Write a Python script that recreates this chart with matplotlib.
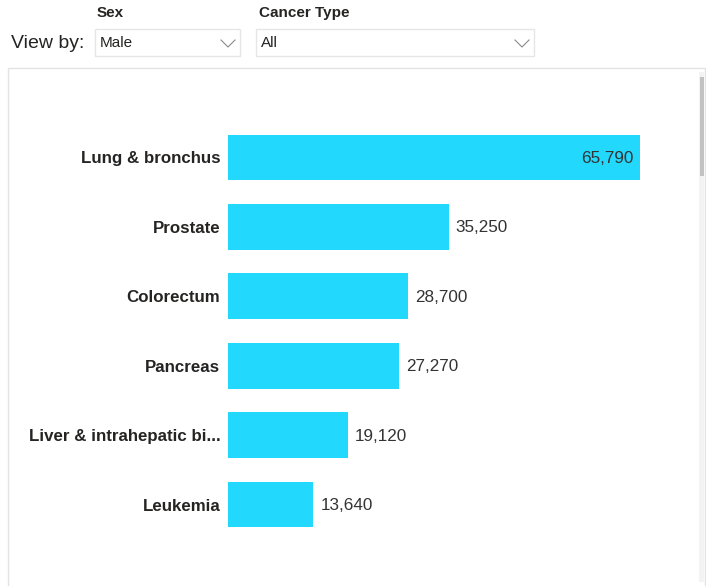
import matplotlib
matplotlib.use("Agg")
import matplotlib.pyplot as plt
from matplotlib.patches import Rectangle

plt.rcParams['font.family'] = ['Liberation Sans', 'DejaVu Sans']

categories = ["Lung & bronchus", "Prostate", "Colorectum", "Pancreas",
              "Liver & intrahepatic bi...", "Leukemia"]
values = [65790, 35250, 28700, 27270, 19120, 13640]
filter_sex = "Male"
filter_type = "All"

W, H = 706, 586
fig = plt.figure(figsize=(W / 100, H / 100), dpi=100)

# overlay axes in pixel coordinates for decorations
ov = fig.add_axes([0, 0, 1, 1])
ov.set_xlim(0, W)
ov.set_ylim(H, 0)
ov.axis('off')

# header
ov.text(97, 13, "Sex", fontsize=11, fontweight='bold', color='#252423', va='center', ha='left')
ov.text(259, 13, "Cancer Type", fontsize=11, fontweight='bold', color='#252423', va='center', ha='left')
ov.text(11, 43, "View by:", fontsize=14, color='#252423', va='center', ha='left')
for (x0, x1, label) in [(95, 240, filter_sex), (256, 534, filter_type)]:
    ov.add_patch(Rectangle((x0, 29), x1 - x0, 27, facecolor='white', edgecolor='#e6e6e6', lw=1))
    ov.text(x0 + 5, 43, label, fontsize=11, color='#252423', va='center', ha='left')
    cx = x1 - 12
    ov.plot([cx - 7, cx, cx + 7], [40, 47, 40], color='#8a8a8a', lw=0.8)

# panel
ov.add_patch(Rectangle((8, 68), 697, 530, facecolor='white', edgecolor='#e3e3e3', lw=1))
ov.add_patch(Rectangle((699, 72), 5, 510, facecolor='#f3f3f3', edgecolor='none'))
ov.add_patch(Rectangle((700, 77), 4, 99, facecolor='#c2c2c2', edgecolor='none'))

# bar axes
left, right, top, bottom = 228, 690, 88, 574
ax = fig.add_axes([left / W, 1 - bottom / H, (right - left) / W, (bottom - top) / H])
ax.patch.set_alpha(0)
xmax = values[0] * (right - left) / (640 - left)
ypos = list(range(len(categories)))
ax.barh(ypos, values, height=0.66, color='#22d8fd', edgecolor='none')
ax.set_xlim(0, xmax)
ax.set_ylim(len(categories) - 0.0, -1.0)
ax.set_yticks(ypos)
ax.set_yticklabels(categories, fontsize=12.2, fontweight='bold', color='#252423')
ax.tick_params(axis='y', length=0, pad=5.5)
ax.set_xticks([])
for s in ax.spines.values():
    s.set_visible(False)

for i, v in enumerate(values):
    txt = f"{v:,}"
    if i == 0:
        ax.annotate(txt, (v, i), xytext=(-7, -1), textcoords='offset pixels',
                    ha='right', va='center', fontsize=12.3, color='#333333')
    else:
        ax.annotate(txt, (v, i), xytext=(7, -1), textcoords='offset pixels',
                    ha='left', va='center', fontsize=12.3, color='#333333')

fig.savefig("out.png", dpi=100)
